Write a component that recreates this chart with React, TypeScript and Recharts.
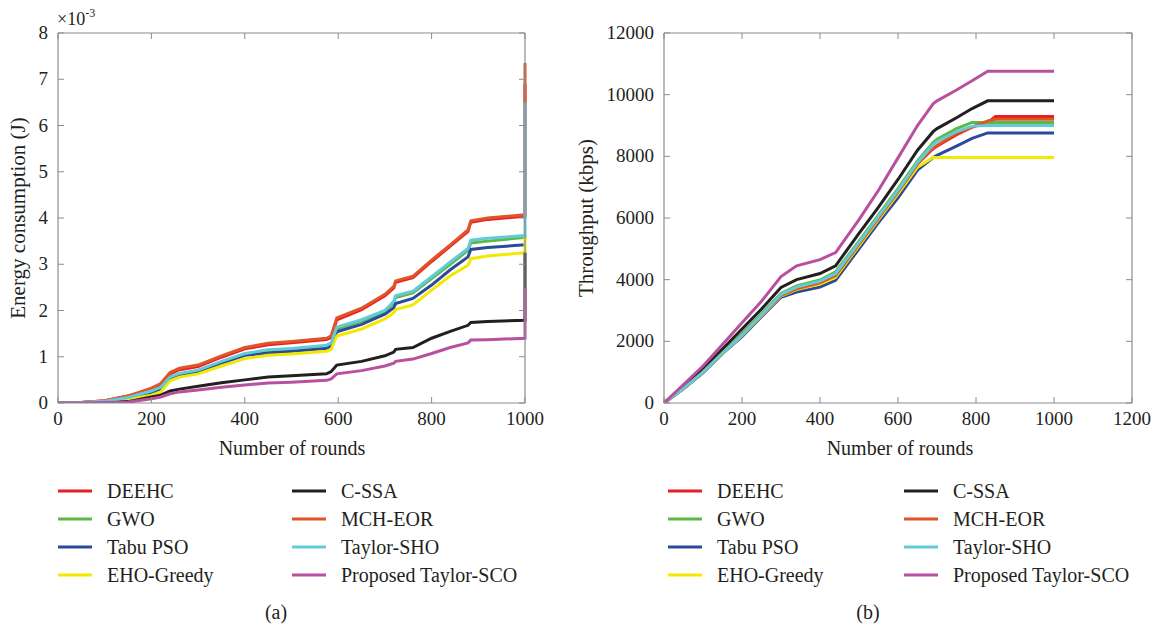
import { LineChart, Line, XAxis, YAxis } from 'recharts'

// (a) energy consumption, values in units of 1e-3 J; last x=1000 row is the end spike
const roundsE = [0, 50, 100, 150, 200, 220, 240, 260, 300, 350, 400, 450, 500, 575, 585, 597, 650, 700, 719, 723, 760, 800, 840, 878, 884, 920, 1000, 1000]
const energyDEEHC = [0, 0.01, 0.05, 0.15, 0.3, 0.4, 0.63, 0.72, 0.79, 0.99, 1.17, 1.26, 1.3, 1.37, 1.42, 1.8, 2.02, 2.32, 2.49, 2.61, 2.71, 3.06, 3.39, 3.71, 3.91, 3.97, 4.04, 6.9]
const energyGWO = [0, 0.01, 0.04, 0.12, 0.25, 0.33, 0.55, 0.62, 0.69, 0.88, 1.05, 1.12, 1.15, 1.22, 1.27, 1.6, 1.77, 1.97, 2.17, 2.28, 2.38, 2.69, 3.0, 3.3, 3.46, 3.5, 3.58, 3.6]
const energyTabu = [0, 0.01, 0.03, 0.11, 0.22, 0.3, 0.52, 0.6, 0.66, 0.86, 1.03, 1.08, 1.12, 1.18, 1.23, 1.54, 1.7, 1.92, 2.06, 2.15, 2.26, 2.55, 2.88, 3.16, 3.32, 3.36, 3.42, 3.42]
const energyEHO = [0, 0, 0.02, 0.08, 0.17, 0.24, 0.48, 0.56, 0.63, 0.8, 0.96, 1.03, 1.06, 1.12, 1.16, 1.45, 1.6, 1.82, 1.95, 2.02, 2.12, 2.44, 2.75, 2.98, 3.12, 3.18, 3.25, 3.62]
const energyCSSA = [0, 0, 0.01, 0.03, 0.13, 0.17, 0.26, 0.3, 0.36, 0.44, 0.5, 0.56, 0.59, 0.63, 0.68, 0.82, 0.9, 1.02, 1.1, 1.16, 1.2, 1.4, 1.55, 1.68, 1.74, 1.76, 1.79, 3.25]
const energyMCH = [0, 0.01, 0.05, 0.15, 0.32, 0.42, 0.66, 0.75, 0.82, 1.02, 1.2, 1.29, 1.33, 1.4, 1.45, 1.84, 2.05, 2.35, 2.52, 2.64, 2.74, 3.09, 3.42, 3.74, 3.94, 4.0, 4.07, 7.35]
const energySHO = [0, 0.01, 0.04, 0.12, 0.26, 0.34, 0.56, 0.64, 0.71, 0.9, 1.07, 1.15, 1.18, 1.25, 1.3, 1.64, 1.8, 2.0, 2.2, 2.32, 2.42, 2.73, 3.05, 3.34, 3.52, 3.56, 3.62, 6.5]
const energySCO = [0, 0, 0.01, 0.02, 0.09, 0.13, 0.2, 0.24, 0.28, 0.34, 0.39, 0.43, 0.45, 0.49, 0.52, 0.63, 0.7, 0.8, 0.86, 0.9, 0.95, 1.07, 1.2, 1.3, 1.36, 1.37, 1.4, 2.5]

// (b) throughput in kbps
const roundsT = [0, 50, 100, 150, 200, 250, 300, 340, 400, 440, 500, 550, 600, 650, 690, 700, 750, 790, 830, 850, 1000]
const tputDEEHC = [0, 470, 1000, 1620, 2210, 2860, 3500, 3720, 3920, 4150, 5170, 6020, 6870, 7780, 8250, 8330, 8700, 8950, 9100, 9290, 9290]
const tputGWO = [0, 480, 1020, 1650, 2250, 2900, 3550, 3800, 3990, 4250, 5250, 6100, 6950, 7850, 8450, 8550, 8900, 9100, 9100, 9100, 9100]
const tputTabu = [0, 460, 980, 1600, 2150, 2800, 3430, 3600, 3760, 3980, 5000, 5850, 6650, 7550, 7960, 8030, 8330, 8580, 8760, 8760, 8760]
const tputEHO = [0, 470, 990, 1610, 2180, 2830, 3470, 3680, 3860, 4080, 5100, 5950, 6780, 7650, 7960, 7960, 7960, 7960, 7960, 7960, 7960]
const tputCSSA = [0, 520, 1100, 1750, 2400, 3050, 3750, 4000, 4200, 4450, 5500, 6350, 7250, 8200, 8800, 8900, 9250, 9550, 9800, 9800, 9800]
const tputMCH = [0, 470, 1000, 1620, 2200, 2850, 3480, 3700, 3900, 4130, 5150, 6000, 6850, 7750, 8250, 8350, 8750, 8950, 9150, 9200, 9200]
const tputSHO = [0, 470, 1000, 1620, 2200, 2860, 3520, 3760, 3950, 4200, 5200, 6050, 6900, 7800, 8380, 8480, 8800, 8980, 9000, 9000, 9000]
const tputSCO = [0, 600, 1200, 1900, 2600, 3300, 4100, 4450, 4650, 4880, 5950, 6900, 7950, 9000, 9700, 9800, 10150, 10450, 10760, 10760, 10760]

const seriesNames = ['DEEHC', 'GWO', 'Tabu PSO', 'EHO-Greedy', 'C-SSA', 'MCH-EOR', 'Taylor-SHO', 'Proposed Taylor-SCO']
const seriesColors = ['#ec1c24', '#5cb946', '#2c4a9c', '#f3e800', '#231f20', '#df5528', '#63cbd8', '#b8509f']
const legendCol1 = ['DEEHC', 'GWO', 'Tabu PSO', 'EHO-Greedy']
const legendCol2 = ['C-SSA', 'MCH-EOR', 'Taylor-SHO', 'Proposed Taylor-SCO']

const energyTicksX = [0, 200, 400, 600, 800, 1000]
const energyTicksY = [0, 1, 2, 3, 4, 5, 6, 7, 8]
const tputTicksX = [0, 200, 400, 600, 800, 1000, 1200]
const tputTicksY = [0, 2000, 4000, 6000, 8000, 10000, 12000]

const energySeries = [energyDEEHC, energyGWO, energyTabu, energyEHO, energyCSSA, energyMCH, energySHO, energySCO]
const tputSeries = [tputDEEHC, tputGWO, tputTabu, tputEHO, tputCSSA, tputMCH, tputSHO, tputSCO]

const energyData = roundsE.map((r, i) => {
  const row: Record<string, number> = { round: r }
  seriesNames.forEach((n, k) => { row[n] = energySeries[k][i] })
  return row
})
const tputData = roundsT.map((r, i) => {
  const row: Record<string, number> = { round: r }
  seriesNames.forEach((n, k) => { row[n] = tputSeries[k][i] })
  return row
})

const AXIS = '#8c8c8c'
const TEXT = '#231f20'
const FONT = "'Liberation Serif', 'Times New Roman', serif"
const TICK_FS = 19

function BottomTick({ x, y, payload }: any) {
  return (
    <g>
      <line x1={x} x2={x} y1={y} y2={y - 6} stroke={AXIS} />
      <text x={x} y={y + 22} textAnchor="middle" fontSize={TICK_FS} fill={TEXT} fontFamily={FONT}>{payload.value}</text>
    </g>
  )
}
function LeftTick({ x, y, payload }: any) {
  return (
    <g>
      <line x1={x} x2={x + 6} y1={y} y2={y} stroke={AXIS} />
      <text x={x - 10} y={y + 6} textAnchor="end" fontSize={TICK_FS} fill={TEXT} fontFamily={FONT}>{payload.value}</text>
    </g>
  )
}
function TopTick({ x, y }: any) {
  return <line x1={x} x2={x} y1={y} y2={y + 6} stroke={AXIS} />
}
function RightTick({ x, y }: any) {
  return <line x1={x} x2={x - 6} y1={y} y2={y} stroke={AXIS} />
}

function Panel({ data, ticksX, ticksY, width, margin }: any) {
  const xMax = ticksX[ticksX.length - 1]
  const yMax = ticksY[ticksY.length - 1]
  const axisLine = { stroke: AXIS, strokeWidth: 1.2 }
  return (
    <LineChart width={width} height={440} data={data} margin={margin}>
      <XAxis dataKey="round" type="number" domain={[0, xMax]} ticks={ticksX} interval={0} height={1}
        tickSize={0} tickMargin={0} tickLine={false} axisLine={axisLine} tick={<BottomTick />} />
      <XAxis xAxisId="top" orientation="top" dataKey="round" type="number" domain={[0, xMax]} ticks={ticksX} interval={0} height={1}
        tickSize={0} tickMargin={0} tickLine={false} axisLine={axisLine} tick={<TopTick />} />
      <YAxis type="number" domain={[0, yMax]} ticks={ticksY} interval={0} width={1}
        tickSize={0} tickMargin={0} tickLine={false} axisLine={axisLine} tick={<LeftTick />} allowDataOverflow />
      <YAxis yAxisId="right" orientation="right" type="number" domain={[0, yMax]} ticks={ticksY} interval={0} width={1}
        tickSize={0} tickMargin={0} tickLine={false} axisLine={axisLine} tick={<RightTick />} allowDataOverflow />
      <Line xAxisId="top" yAxisId="right" dataKey="C-SSA" stroke="none" dot={false} isAnimationActive={false} legendType="none" />
      {seriesNames.map((n, k) => (
        <Line key={n} type="linear" dataKey={n} stroke={seriesColors[k]} strokeWidth={3}
          dot={false} isAnimationActive={false} />
      ))}
    </LineChart>
  )
}

function Legend({ x1, x2 }: { x1: number; x2: number }) {
  const rows = [491, 519, 547, 575]
  const item = (name: string, x: number, y: number) => {
    const k = seriesNames.indexOf(name)
    return (
      <g key={name}>
        <line x1={x} x2={x + 34} y1={y} y2={y} stroke={seriesColors[k]} strokeWidth={3} />
        <text x={x + 49} y={y + 7} fontSize={20} fill={TEXT} fontFamily={FONT}>{name}</text>
      </g>
    )
  }
  return (
    <g>
      {legendCol1.map((n, i) => item(n, x1, rows[i]))}
      {legendCol2.map((n, i) => item(n, x2, rows[i]))}
    </g>
  )
}

export default function App() {
  return (
    <div style={{ position: 'absolute', left: 0, top: 0, width: 1162, height: 626, background: '#fff', fontFamily: FONT }}>
      <div style={{ position: 'absolute', left: 0, top: 0 }}>
        <Panel data={energyData} ticksX={energyTicksX} ticksY={energyTicksY} width={560}
          margin={{ top: 32, right: 34, bottom: 36, left: 57 }} />
      </div>
      <div style={{ position: 'absolute', left: 580, top: 0 }}>
        <Panel data={tputData} ticksX={tputTicksX} ticksY={tputTicksY} width={582}
          margin={{ top: 32, right: 29, bottom: 36, left: 83 }} />
      </div>
      <svg width={1162} height={626} style={{ position: 'absolute', left: 0, top: 0, pointerEvents: 'none' }}>
        <text x={57} y={25} fontSize={18} fill={TEXT} fontFamily={FONT}>
          ×10<tspan dy={-8} fontSize={12}>-3</tspan>
        </text>
        <text transform="translate(25,218) rotate(-90)" textAnchor="middle" fontSize={21} fill={TEXT} fontFamily={FONT}>
          Energy consumption (J)
        </text>
        <text transform="translate(593,218) rotate(-90)" textAnchor="middle" fontSize={21} fill={TEXT} fontFamily={FONT}>
          Throughput (kbps)
        </text>
        <text x={292} y={455} textAnchor="middle" fontSize={20} fill={TEXT} fontFamily={FONT}>Number of rounds</text>
        <text x={900} y={455} textAnchor="middle" fontSize={20} fill={TEXT} fontFamily={FONT}>Number of rounds</text>
        <Legend x1={58} x2={292} />
        <Legend x1={668} x2={904} />
        <text x={276} y={619} textAnchor="middle" fontSize={20} fill={TEXT} fontFamily={FONT}>(a)</text>
        <text x={868} y={619} textAnchor="middle" fontSize={20} fill={TEXT} fontFamily={FONT}>(b)</text>
      </svg>
    </div>
  )
}
